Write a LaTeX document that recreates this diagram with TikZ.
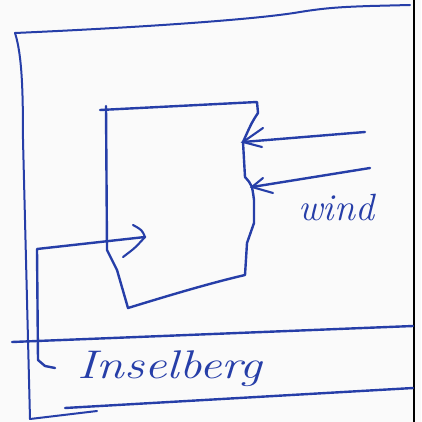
\documentclass[tikz,border=0pt]{standalone}
\usetikzlibrary{arrows.meta}
\definecolor{ink}{RGB}{38,62,168}
\definecolor{paper}{RGB}{250,250,250}
\tikzset{
  pen/.style={draw=ink, line width=2.4pt, line cap=round, line join=round},
  lbl/.style={text=ink, inner sep=0pt, font=\itshape},
  barb/.style={draw=ink, line width=2.1pt, line cap=round}
}
\begin{document}
\begin{tikzpicture}[x=1pt,y=-1pt]
\fill[paper] (0,0) rectangle (421,422);
\useasboundingbox (0,0) rectangle (421,422);
% scan edge
\draw[black, line width=2.5pt] (414,0) -- (414,422);
% outer frame
\draw[pen, line width=2pt] (410,5) -- (370,6) .. controls (340,7) and (325,8) .. (300,12)
  .. controls (260,19) and (150,27) .. (15,33)
  .. controls (22,55) and (23,90) .. (23,140) -- (27,300) -- (30,419) -- (97,411);
% ground line
\draw[pen] (12,342) -- (413,326);
% underline
\draw[pen] (65,408) -- (413,388);
% block (inselberg)
\draw[pen] (100,110) -- (257,102) -- (258,113) .. controls (252,122) .. (243,142)
  -- (245,177) .. controls (252,185) .. (254,200) -- (254,223) -- (247,243) -- (245,275)
  .. controls (215,282) and (180,292) .. (128,308) -- (117,270) -- (107,250) -- (106,106);
% wind arrows
\coordinate (w1s) at (365,132); \coordinate (w1t) at (243,142);
\coordinate (w2s) at (370,168); \coordinate (w2t) at (252,187);
\draw[pen] (w1s) -- (w1t);
\draw[barb] (263,128) -- (w1t) -- (262,147);
\draw[pen] (w2s) -- (w2t);
\draw[barb] (263,178) -- (w2t) -- (273,193);
% left arrow
\coordinate (lt) at (145,237);
\draw[pen] (55,368) -- (45,366) -- (38,360) -- (37,249) -- (lt);
\draw[barb] (133,225) .. controls (142,230) .. (lt) .. controls (135,248) .. (123,257);
% labels
\node[lbl, font=\itshape\fontsize{38}{38}\selectfont] (wind) at (336,208) {wind};
\node[lbl, font=\itshape\fontsize{40}{40}\selectfont, xscale=1.25] (ins) at (170,369) {Inselberg};
\end{tikzpicture}
\end{document}
